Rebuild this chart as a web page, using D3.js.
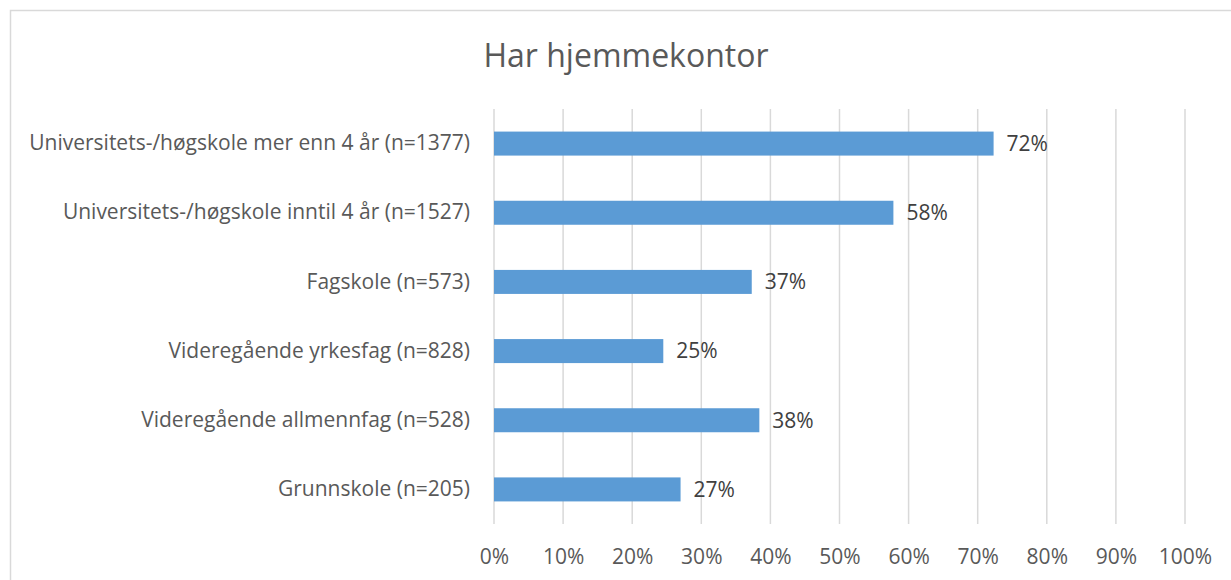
<!DOCTYPE html>
<html>
<head>
<meta charset="utf-8">
<script src="https://cdn.jsdelivr.net/npm/d3@7"></script>
<style>
  body { margin: 0; background: #fff; }
  svg { display: block; font-family: "Open Sans", sans-serif; }
</style>
</head>
<body>
<svg id="chart"></svg>
<script>
// data
const categories = [
  'Universitets-/høgskole mer enn 4 år (n=1377)',
  'Universitets-/høgskole inntil 4 år (n=1527)',
  'Fagskole (n=573)',
  'Videregående yrkesfag (n=828)',
  'Videregående allmennfag (n=528)',
  'Grunnskole (n=205)'
]
const values = [0.723, 0.578, 0.373, 0.245, 0.384, 0.27]
const ticks = [0, 0.1, 0.2, 0.3, 0.4, 0.5, 0.6, 0.7, 0.8, 0.9, 1]
const title = 'Har hjemmekontor'

const W = 1231, H = 580
const svg = d3.select('#chart').attr('width', W).attr('height', H)

// outer chart frame (runs off the right and bottom edge)
svg.append('rect')
  .attr('x', 10.5).attr('y', 10.5)
  .attr('width', 1232).attr('height', 600)
  .attr('fill', '#fff').attr('stroke', '#d9d9d9').attr('stroke-width', 1.5)

svg.append('text')
  .attr('x', 626).attr('y', 67)
  .attr('text-anchor', 'middle')
  .attr('font-size', 32)
  .attr('fill', '#595959')
  .text(title)

const x = d3.scaleLinear().domain([0, 1]).range([494, 1185])
const y = d3.scaleBand().domain(categories).range([109, 524])
  .paddingInner(0.653).paddingOuter(0.3265)

// gridlines
svg.append('g')
  .selectAll('line')
  .data(ticks)
  .join('line')
  .attr('x1', d => x(d)).attr('x2', d => x(d))
  .attr('y1', 109).attr('y2', 524)
  .attr('stroke', '#d9d9d9').attr('stroke-width', 1.5)

// x axis labels
const xAxis = d3.axisBottom(x)
  .tickValues(ticks)
  .tickFormat(d3.format('.0%'))
  .tickSize(0)
  .tickPadding(0)
svg.append('g')
  .attr('transform', 'translate(0, 549)')
  .call(xAxis)
  .call(g => g.select('.domain').remove())
  .call(g => g.selectAll('text')
    .attr('font-family', '"Open Sans", sans-serif')
    .attr('font-size', 21)
    .attr('fill', '#595959'))

// y axis labels
const yAxis = d3.axisLeft(y).tickSize(0).tickPadding(24)
svg.append('g')
  .attr('transform', 'translate(494, 0)')
  .call(yAxis)
  .call(g => g.select('.domain').remove())
  .call(g => g.selectAll('text')
    .attr('font-family', '"Open Sans", sans-serif')
    .attr('font-size', 21)
    .attr('fill', '#595959'))

// bars
svg.selectAll('.bar')
  .data(values)
  .join('rect')
  .attr('class', 'bar')
  .attr('x', x(0))
  .attr('y', (d, i) => y(categories[i]))
  .attr('width', d => x(d) - x(0))
  .attr('height', y.bandwidth())
  .attr('fill', '#5b9bd5')

// value labels
svg.selectAll('.val')
  .data(values)
  .join('text')
  .attr('class', 'val')
  .attr('x', d => x(d) + 13)
  .attr('y', (d, i) => y(categories[i]) + y.bandwidth() / 2)
  .attr('dy', '0.35em')
  .attr('font-size', 21)
  .attr('fill', '#404040')
  .text(d => Math.round(d * 100) + '%')
</script>
</body>
</html>
